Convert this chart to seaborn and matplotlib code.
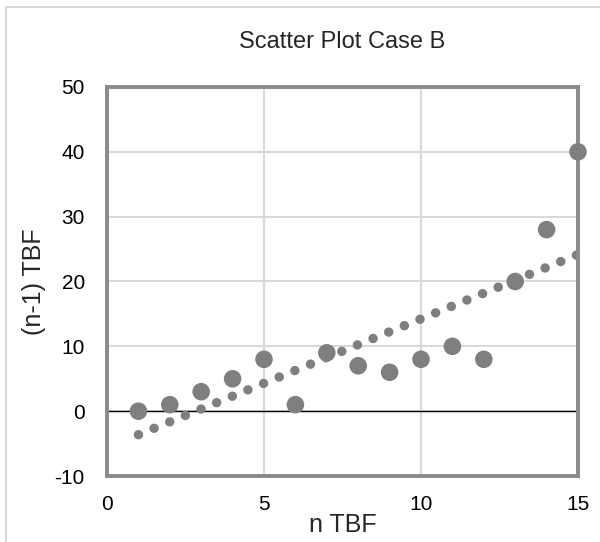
import numpy as np
import pandas as pd
import seaborn as sns
import matplotlib.pyplot as plt
from matplotlib.patches import Rectangle

# data
n_tbf = [1, 2, 3, 4, 5, 6, 7, 8, 9, 10, 11, 12, 13, 14, 15]
prev_tbf = [0, 1, 3, 5, 8, 1, 9, 7, 6, 8, 10, 8, 20, 28, 40]
x_ticks = [0, 5, 10, 15]
y_ticks = [-10, 0, 10, 20, 30, 40, 50]

df = pd.DataFrame({'n TBF': n_tbf, '(n-1) TBF': prev_tbf})

sns.set_style('white')
plt.rcParams['font.family'] = ['Liberation Sans', 'DejaVu Sans']
plt.rcParams['axes.unicode_minus'] = False

grey = '#7f7f7f'
fig = plt.figure(figsize=(6, 5.42), dpi=100)
ax = fig.add_axes([107 / 600, 1 - 476 / 542, 471 / 600, 389 / 542])

# outer chart border (only top and left visible in the picture)
fig.patches.append(Rectangle((6 / 600, -0.1), 1.2, 1 - 7 / 542 + 0.1,
                             transform=fig.transFigure, fill=False,
                             edgecolor='#d9d9d9', linewidth=1.5))

ax.set_xlim(0, 15)
ax.set_ylim(-10, 50)
ax.set_xticks(x_ticks)
ax.set_yticks(y_ticks)
ax.grid(True, color='#d9d9d9', linewidth=1.5)
ax.set_axisbelow(True)
ax.axhline(0, color='black', linewidth=1, zorder=1.5)

# linear trend line, Excel-style round dots
sns.regplot(data=df, x='n TBF', y='(n-1) TBF', ax=ax, scatter=False, ci=None,
            color=grey, line_kws=dict(linewidth=6.8, linestyle=(0, (0.01, 1.78)),
                                      dash_capstyle='round', zorder=2))
sns.scatterplot(data=df, x='n TBF', y='(n-1) TBF', ax=ax, color=grey,
                s=160, edgecolor='none', zorder=3, clip_on=False)

for sp in ax.spines.values():
    sp.set_color('#8a8a8a')
    sp.set_linewidth(2.8)

ax.tick_params(axis='both', length=0, labelsize=15, colors='black', pad=14)
ax.tick_params(axis='y', pad=16)
ax.set_xlabel('n TBF', fontsize=18, labelpad=-1)
ax.set_ylabel('(n-1) TBF', fontsize=18, labelpad=6)
ax.set_title('Scatter Plot Case B', fontsize=17, pad=28)

fig.savefig('out.png', dpi=100)
